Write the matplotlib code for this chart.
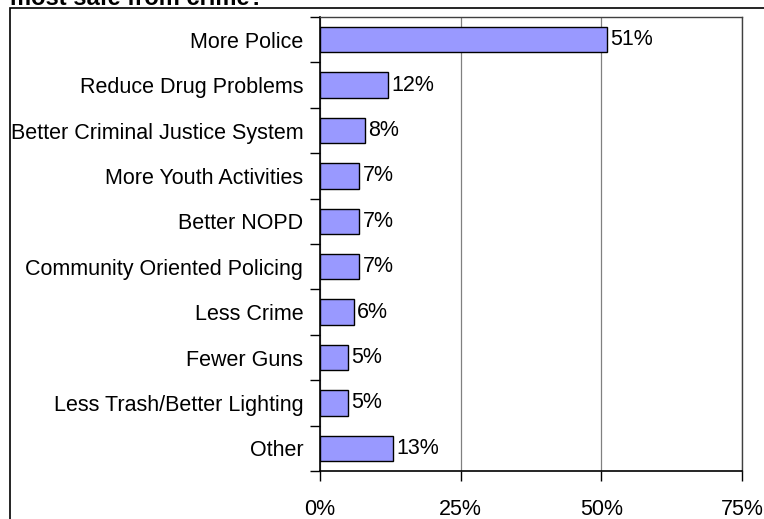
import matplotlib.pyplot as plt
from matplotlib.patches import Rectangle

plt.rcParams['font.family'] = ['Liberation Sans', 'DejaVu Sans']

categories = [
    "More Police",
    "Reduce Drug Problems",
    "Better Criminal Justice System",
    "More Youth Activities",
    "Better NOPD",
    "Community Oriented Policing",
    "Less Crime",
    "Fewer Guns",
    "Less Trash/Better Lighting",
    "Other",
]
values = [51, 12, 8, 7, 7, 7, 6, 5, 5, 13]
x_ticks = [0, 25, 50, 75]
x_tick_labels = ["0%", "25%", "50%", "75%"]
title = "most safe from crime?"

W, H = 764, 519
FS = 15.5
fig = plt.figure(figsize=(W / 100, H / 100), dpi=100)

# outer frame of the chart area (extends past right and bottom edges)
fig.patches.append(Rectangle((10 / W, -0.1), 1.2, 1 - 8 / H + 0.1,
                             transform=fig.transFigure, fill=False,
                             edgecolor='black', linewidth=1.2, zorder=0))

fig.text(10 / W, 1 - 5 / H, title, fontsize=17, fontweight='bold',
         ha='left', va='baseline')

left, right, top, bottom = 320, 742, 17, 471
ax = fig.add_axes([left / W, 1 - bottom / H, (right - left) / W, (bottom - top) / H])

n = len(categories)
ypos = list(range(n))
ax.barh(ypos, values, height=0.56, color='#9999FF', edgecolor='black',
        linewidth=1.0, zorder=3)

for y, v in zip(ypos, values):
    ax.text(v + 0.6, y, f"{v}%", va='center', ha='left', fontsize=FS, zorder=4)

ax.set_xlim(0, 75)
ax.set_ylim(n - 0.5, -0.5)

ax.set_xticks(x_ticks)
ax.set_xticklabels(x_tick_labels, fontsize=FS)
ax.tick_params(axis='x', direction='out', length=7, width=1, pad=13)
ax.xaxis.grid(True, color='#808080', linewidth=0.9, zorder=0)

# category separators as ticks, names as minor labels at bar centres
ax.set_yticks([i - 0.5 for i in range(n + 1)])
ax.set_yticklabels([])
ax.tick_params(axis='y', which='major', direction='out', length=7, width=1)
ax.set_yticks(ypos, minor=True)
ax.set_yticklabels(categories, minor=True, fontsize=FS)
ax.tick_params(axis='y', which='minor', length=0, pad=12)

for s in ['left', 'bottom']:
    ax.spines[s].set_color('black')
    ax.spines[s].set_linewidth(1.2)
for s in ['top', 'right']:
    ax.spines[s].set_color('#404040')
    ax.spines[s].set_linewidth(1.0)

fig.savefig('out.png', dpi=100)
